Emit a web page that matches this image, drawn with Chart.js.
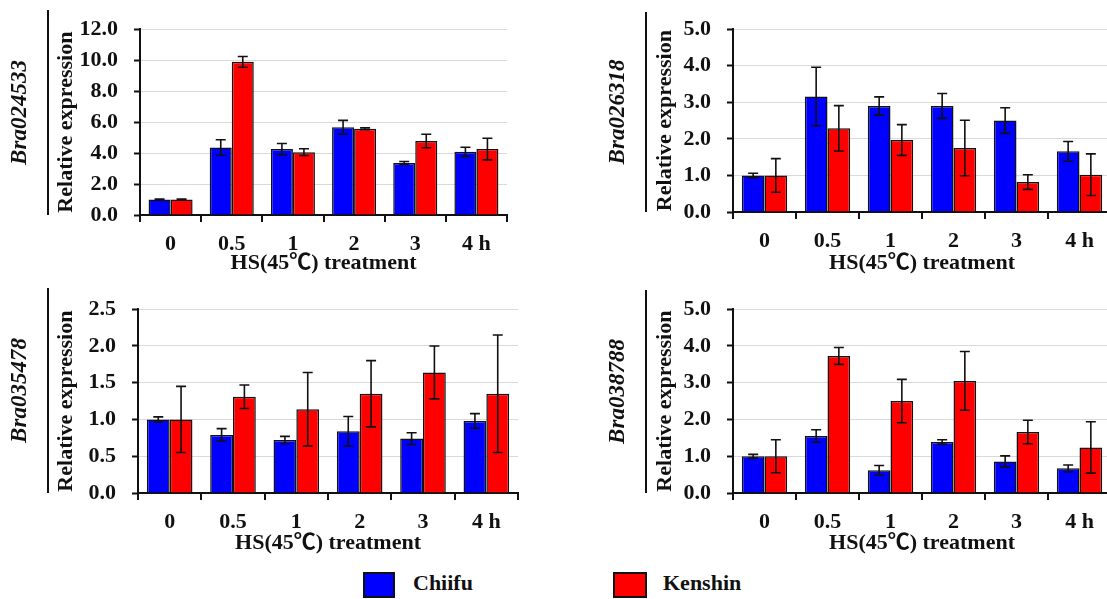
<!DOCTYPE html>
<html>
<head>
<meta charset="utf-8">
<script src="https://cdn.jsdelivr.net/npm/chart.js@4.4.1/dist/chart.umd.min.js"></script>
<style>
html,body{margin:0;padding:0;background:#fff;}
body{width:1107px;height:599px;overflow:hidden;position:relative;}
canvas{position:absolute;}
.leg{position:absolute;font-family:'Liberation Serif','Times New Roman',serif;font-weight:bold;font-size:22px;color:#111;line-height:24px;}
.box{position:absolute;box-sizing:border-box;border:2px solid #111;}
</style>
</head>
<body>
<canvas id="c0" width="520" height="280" style="left:0px;top:0px"></canvas>
<canvas id="c1" width="530" height="280" style="left:593px;top:0px"></canvas>
<canvas id="c2" width="530" height="280" style="left:0px;top:280px"></canvas>
<canvas id="c3" width="530" height="280" style="left:593px;top:280px"></canvas>

<div class="box" style="left:363px;top:572px;width:32px;height:26px;background:#0000ff"></div>
<div class="leg" style="left:413px;top:571px">Chiifu</div>
<div class="box" style="left:613px;top:572px;width:34px;height:26px;background:#ff0000"></div>
<div class="leg" style="left:663px;top:571px">Kenshin</div>

<script>
// ---------- data ----------
const categories = ['0', '0.5', '1', '2', '3', '4 h'];
const seriesNames = ['Chiifu', 'Kenshin'];
const genes = ['Bra024533', 'Bra026318', 'Bra035478', 'Bra038788'];
const yMax = [12, 5, 2.5, 5];
const yStep = [2, 1, 0.5, 1];
const xTitle = 'HS(45℃) treatment';
const yTitle = 'Relative expression';

const chiifu024533 = [1.00, 4.36, 4.26, 5.67, 3.36, 4.08];
const chiifuErr024533 = [0.03, 0.50, 0.36, 0.44, 0.10, 0.30];
const kenshin024533 = [1.00, 9.89, 4.06, 5.57, 4.78, 4.26];
const kenshinErr024533 = [0.03, 0.35, 0.22, 0.06, 0.44, 0.70];

const chiifu026318 = [1.00, 3.16, 2.90, 2.90, 2.50, 1.66];
const chiifuErr026318 = [0.06, 0.80, 0.25, 0.34, 0.35, 0.27];
const kenshin026318 = [1.00, 2.29, 1.97, 1.75, 0.82, 1.02];
const kenshinErr026318 = [0.46, 0.62, 0.42, 0.76, 0.20, 0.57];

const chiifu035478 = [1.00, 0.79, 0.72, 0.84, 0.74, 0.98];
const chiifuErr035478 = [0.035, 0.085, 0.05, 0.20, 0.08, 0.10];
const kenshin035478 = [1.00, 1.31, 1.14, 1.35, 1.64, 1.35];
const kenshinErr035478 = [0.45, 0.16, 0.50, 0.45, 0.36, 0.80];

const chiifu038788 = [1.00, 1.55, 0.62, 1.39, 0.86, 0.67];
const chiifuErr038788 = [0.05, 0.17, 0.13, 0.06, 0.15, 0.09];
const kenshin038788 = [1.00, 3.73, 2.50, 3.05, 1.66, 1.24];
const kenshinErr038788 = [0.45, 0.23, 0.59, 0.80, 0.32, 0.70];

const chiifuAll = [chiifu024533, chiifu026318, chiifu035478, chiifu038788];
const chiifuErrAll = [chiifuErr024533, chiifuErr026318, chiifuErr035478, chiifuErr038788];
const kenshinAll = [kenshin024533, kenshin026318, kenshin035478, kenshin038788];
const kenshinErrAll = [kenshinErr024533, kenshinErr026318, kenshinErr035478, kenshinErr038788];

// ---------- layout / style ----------
const layoutCfg = [
  {padTop: 16, padRight: 13, yW: 140, xH: 65, yTitlePad: 53, geneDx: -120, lineDx: -92, lineTop: 10},
  {padTop: 13, padRight: 12, yW: 140, xH: 68, yTitlePad: 59, geneDx: -115, lineDx: -87, lineTop: 12},
  {padTop: 15, padRight: 12, yW: 138, xH: 67, yTitlePad: 53, geneDx: -118, lineDx: -90, lineTop: 8},
  {padTop: 15, padRight: 12, yW: 140, xH: 67, yTitlePad: 59, geneDx: -115, lineDx: -87, lineTop: 10}
];
const FAMILY = "'Liberation Serif','Times New Roman','Noto Sans CJK SC',serif";
const INK = '#111111';

const errorBarPlugin = {
  id: 'errorBars',
  afterDatasetsDraw(chart) {
    const ctx = chart.ctx;
    const ys = chart.scales.y;
    chart.data.datasets.forEach((ds, di) => {
      const meta = chart.getDatasetMeta(di);
      meta.data.forEach((bar, i) => {
        const v = ds.data[i], e = ds.errors[i];
        const yt = ys.getPixelForValue(v + e);
        const yb = ys.getPixelForValue(v - e);
        ctx.save();
        ctx.strokeStyle = INK;
        ctx.lineWidth = 1.6;
        ctx.beginPath();
        ctx.moveTo(bar.x, yt); ctx.lineTo(bar.x, yb);
        ctx.moveTo(bar.x - 5, yt); ctx.lineTo(bar.x + 5, yt);
        ctx.moveTo(bar.x - 5, yb); ctx.lineTo(bar.x + 5, yb);
        ctx.stroke();
        ctx.restore();
      });
    });
  }
};

const genePlugin = {
  id: 'geneLabel',
  afterDraw(chart, args, opts) {
    const ctx = chart.ctx;
    const ca = chart.chartArea;
    ctx.save();
    ctx.strokeStyle = INK;
    ctx.lineWidth = 2;
    ctx.beginPath();
    ctx.moveTo(ca.left + opts.lineDx, opts.lineTop);
    ctx.lineTo(ca.left + opts.lineDx, ca.bottom);
    ctx.stroke();
    ctx.translate(ca.left + opts.geneDx, (opts.lineTop + ca.bottom) / 2);
    ctx.rotate(-Math.PI / 2);
    ctx.fillStyle = INK;
    ctx.font = "italic bold 23px " + FAMILY;
    ctx.textAlign = 'center';
    ctx.textBaseline = 'middle';
    ctx.fillText(opts.text, 0, 0);
    ctx.restore();
  }
};

genes.forEach((g, k) => {
  const L = layoutCfg[k];
  new Chart(document.getElementById('c' + k), {
    type: 'bar',
    data: {
      labels: categories,
      datasets: [
        {label: seriesNames[0], data: chiifuAll[k], errors: chiifuErrAll[k],
         backgroundColor: '#0000ff', borderColor: INK, borderWidth: 1.5,
         categoryPercentage: 0.72, barPercentage: 1.0},
        {label: seriesNames[1], data: kenshinAll[k], errors: kenshinErrAll[k],
         backgroundColor: '#ff0000', borderColor: INK, borderWidth: 1.5,
         categoryPercentage: 0.72, barPercentage: 1.0}
      ]
    },
    options: {
      responsive: false,
      animation: false,
      devicePixelRatio: 1,
      layout: {padding: {top: L.padTop, right: L.padRight, left: 0, bottom: 0}},
      plugins: {
        legend: {display: false},
        tooltip: {enabled: false},
        geneLabel: {text: g, geneDx: L.geneDx, lineDx: L.lineDx, lineTop: L.lineTop}
      },
      scales: {
        x: {
          grid: {display: true, drawOnChartArea: false, color: INK, lineWidth: 2, tickLength: 7, offset: true},
          border: {display: true, color: INK, width: 2},
          ticks: {color: INK, padding: 9, font: {family: FAMILY, weight: 'bold', size: 22}, maxRotation: 0},
          title: {display: true, text: xTitle, color: INK, padding: {top: 0, bottom: 3},
                  font: {family: FAMILY, weight: 'bold', size: 22}},
          afterFit(axis) { axis.height = L.xH; }
        },
        y: {
          min: 0, max: yMax[k],
          grid: {color: '#d9d9d9', lineWidth: 1, tickColor: INK, tickWidth: 2, tickLength: 6},
          border: {display: true, color: INK, width: 2},
          ticks: {stepSize: yStep[k], color: INK, padding: 16,
                  font: {family: FAMILY, weight: 'bold', size: 22},
                  callback: (v) => Number(v).toFixed(1)},
          title: {display: true, text: yTitle, color: INK, padding: {top: L.yTitlePad, bottom: 0},
                  font: {family: FAMILY, weight: 'bold', size: 22}},
          afterFit(axis) { axis.width = L.yW; }
        }
      }
    },
    plugins: [errorBarPlugin, genePlugin]
  });
});
</script>
</body>
</html>
